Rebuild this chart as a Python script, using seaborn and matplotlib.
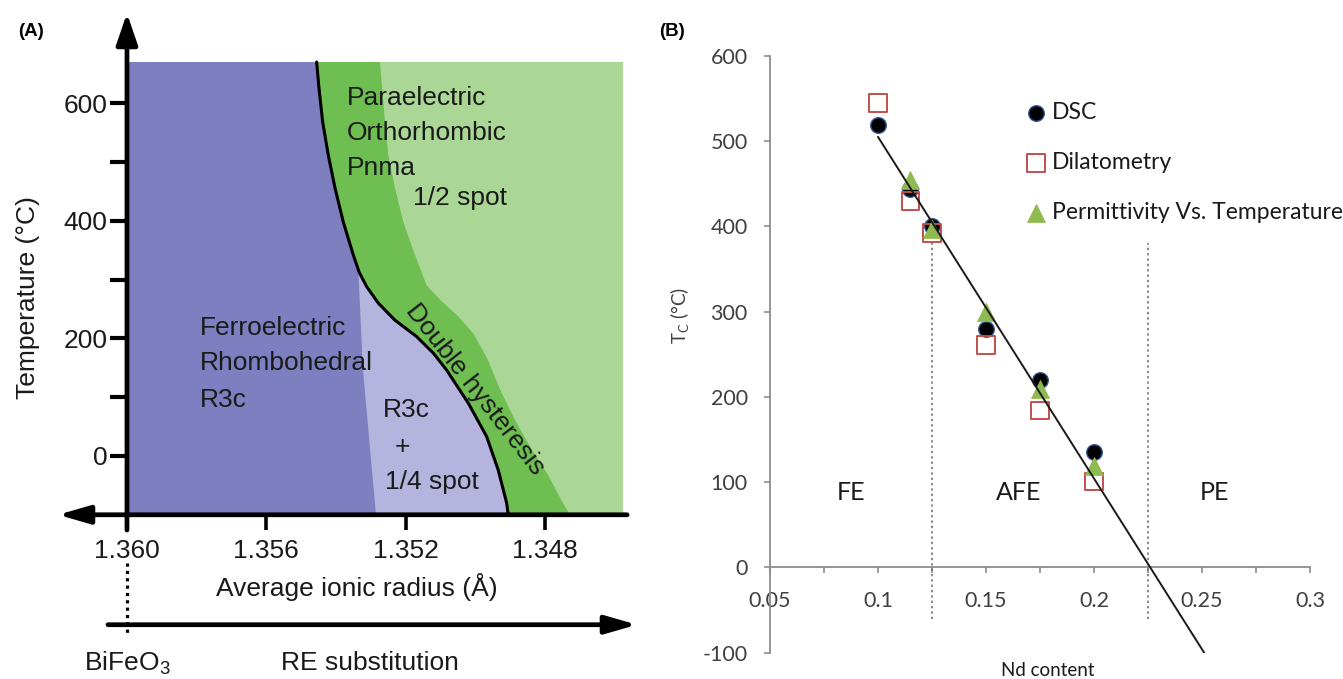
import numpy as np
import pandas as pd
import matplotlib
matplotlib.use("Agg")
import matplotlib.pyplot as plt
import seaborn as sns

# ================= DATA : panel (A) phase diagram =================
radius_ticks = [1.360, 1.356, 1.352, 1.348]
radius_tick_labels = ["1.360", "1.356", "1.352", "1.348"]
temp_major_ticks = [0, 200, 400, 600]
temp_minor_ticks = [100, 300, 500]

# FE / PE phase boundary (black curve): (average ionic radius, temperature)
fe_boundary_radius = [1.354554, 1.354488, 1.354381, 1.354221, 1.354028, 1.353790,
                      1.353503, 1.353330, 1.353118, 1.352785, 1.352306, 1.351683,
                      1.351206, 1.350821, 1.350201, 1.349673, 1.349340, 1.349099,
                      1.349053]
fe_boundary_temp = [670, 626, 568, 512, 456, 398, 342, 312, 288, 260, 231, 203,
                    175, 146, 90, 33, -24, -80, -100]

# outer edge of the "double hysteresis" band
dh_edge_radius = [1.352736, 1.352593, 1.352498, 1.352306, 1.352067, 1.351732,
                  1.351396, 1.351000, 1.350500, 1.350050, 1.349650, 1.349280,
                  1.348861, 1.348372, 1.347913, 1.347483, 1.347281]
dh_edge_temp = [670, 568, 512, 456, 398, 342, 290, 265, 238, 208, 165, 112,
                61, 10, -32, -80, -100]

# left edge of the "R3c + 1/4 spot" region
spot_edge_radius = [1.35336, 1.353224, 1.352851]
spot_edge_temp = [318, 146, -100]

diagram_radius_limits = [1.360, 1.34576]
diagram_temp_limits = [-100, 670]

region_labels = ["Paraelectric", "Orthorhombic", "Pnma", "1/2 spot",
                 "Ferroelectric", "Rhombohedral", "R3c"]
region_label_radius = [1.35368, 1.35368, 1.35368, 1.35179,
                       1.35790, 1.35790, 1.35790]
region_label_temp = [609, 549, 490, 439, 218, 158, 95]

spot_labels = ["R3c", "+", "1/4 spot"]
spot_label_radius = [1.35197, 1.35208, 1.35125]
spot_label_temp = [78, 15, -44]

dh_label = "Double hysteresis"
dh_label_pos = [1.35001, 114]

# axis arrows / substitution arrow (radius, temperature)
yaxis_arrow_temp = [-126, 753]
xaxis_arrow_radius = [1.34564, 1.36198]
subst_arrow_radius = [1.360545, 1.345358]
subst_arrow_temp = -287
bifeo3_dots_temp = [-182, -304]

# ================= DATA : panel (B) =================
nd_dsc = [0.100, 0.115, 0.125, 0.150, 0.175, 0.200]
tc_dsc = [519, 444, 400, 280, 220, 135]
nd_dil = [0.100, 0.115, 0.125, 0.150, 0.175, 0.200]
tc_dil = [545, 430, 392, 261, 184, 101]
nd_perm = [0.115, 0.125, 0.150, 0.175, 0.200]
tc_perm = [455, 397, 300, 209, 119]
trend_nd = [0.100, 0.251]
trend_tc = [505, -100]

nd_major_ticks = [0.05, 0.10, 0.15, 0.20, 0.25, 0.30]
nd_major_labels = ["0.05", "0.1", "0.15", "0.2", "0.25", "0.3"]
nd_minor_ticks = [0.075, 0.125, 0.175, 0.225, 0.275]
tc_ticks = [-100, 0, 100, 200, 300, 400, 500, 600]

phase_bounds = [0.125, 0.225]
phase_line_temp = [-60, 381]
phase_names = ["FE", "AFE", "PE"]
phase_name_nd = [0.0875, 0.1653, 0.2556]
phase_name_tc = [88, 88, 88]

# ================= STYLE =================
sns.set_theme(style="white")
plt.rcParams["font.family"] = ["Liberation Sans", "DejaVu Sans"]
B_FONT = ["Lato", "DejaVu Sans"]

c_fe = "#7d7fc0"
c_spot = "#b4b4de"
c_dh = "#6ebe52"
c_pe = "#aad696"
txt = "#1a1a1a"

W, H = 1343, 679
fig = plt.figure(figsize=(W / 100, H / 100), dpi=100)
fig.patch.set_facecolor("white")


def box(l, t, r, b):
    return [l / W, 1 - b / H, (r - l) / W, (b - t) / H]


# ================= PANEL A =================
axA = fig.add_axes(box(39.9, 9.1, 632.0, 679.0))
axA.set_xlim(1.3625, 1.3455)
axA.set_ylim(-379.3, 760)
axA.patch.set_alpha(0)
for s in axA.spines.values():
    s.set_visible(False)
axA.spines["left"].set_position(("data", 1.360))
axA.spines["bottom"].set_position(("data", -100))

r0, r1 = diagram_radius_limits
t0, t1 = diagram_temp_limits
axA.fill([r0, r0, r1, r1], [t0, t1, t1, t0], color=c_pe, lw=0, zorder=1.0)
axA.fill(fe_boundary_radius + dh_edge_radius[::-1],
         fe_boundary_temp + dh_edge_temp[::-1], color=c_dh, lw=0, zorder=1.1)
axA.fill([r0] + fe_boundary_radius + [r0],
         [t1] + fe_boundary_temp + [t0], color=c_fe, lw=0, zorder=1.2)
below = [(r, t) for r, t in zip(fe_boundary_radius, fe_boundary_temp)
         if t < spot_edge_temp[0]][::-1]
axA.fill(spot_edge_radius + [p[0] for p in below],
         spot_edge_temp + [p[1] for p in below], color=c_spot, lw=0, zorder=1.3)
sns.lineplot(x=fe_boundary_radius, y=fe_boundary_temp, sort=False, estimator=None,
             color="black", lw=2.2, ax=axA, zorder=1.5)

axA.set_yticks(temp_major_ticks)
axA.set_yticklabels([str(v) for v in temp_major_ticks])
axA.set_yticks(temp_minor_ticks, minor=True)
axA.set_xticks(radius_ticks)
axA.set_xticklabels(radius_tick_labels)
axA.tick_params(axis="y", which="both", direction="inout", length=24.5, width=3,
                color="black", pad=2, labelsize=19, labelcolor=txt, left=True, right=False)
axA.tick_params(axis="x", which="major", direction="inout", length=21.6, width=2.6,
                color="black", pad=7, labelsize=19, labelcolor=txt, bottom=True, top=False)
axA.tick_params(axis="x", which="minor", length=0)

arrow_kw = dict(mutation_scale=1, lw=3.4, color="black", shrinkA=0, shrinkB=0)
axA.annotate("", xy=(1.360, yaxis_arrow_temp[1]), xytext=(1.360, yaxis_arrow_temp[0]),
             arrowprops=dict(arrowstyle="-|>,head_length=19,head_width=6.5", **arrow_kw),
             annotation_clip=False, zorder=3)
axA.annotate("", xy=(xaxis_arrow_radius[1], -100), xytext=(xaxis_arrow_radius[0], -100),
             arrowprops=dict(arrowstyle="-|>,head_length=19,head_width=5.5", **arrow_kw),
             annotation_clip=False, zorder=3)
axA.annotate("", xy=(subst_arrow_radius[1], subst_arrow_temp),
             xytext=(subst_arrow_radius[0], subst_arrow_temp),
             arrowprops=dict(arrowstyle="-|>,head_length=19,head_width=5.5", **arrow_kw),
             annotation_clip=False, zorder=3)
axA.plot([1.360, 1.360], bifeo3_dots_temp, ls=(0, (1, 1.3)), lw=2.3, color="black",
         clip_on=False)

for lab, r, t in zip(region_labels, region_label_radius, region_label_temp):
    axA.text(r, t, lab, fontsize=19, color=txt, ha="left", va="center", zorder=4)
for lab, r, t in zip(spot_labels, spot_label_radius, spot_label_temp):
    axA.text(r, t, lab, fontsize=19, color=txt, ha="center", va="center", zorder=4)
axA.text(dh_label_pos[0], dh_label_pos[1], dh_label, fontsize=19, color=txt,
         rotation=-52, rotation_mode="anchor", ha="center", va="center", zorder=4)

axA.text(1.3534, -223, "Average ionic radius (Å)", fontsize=19, color=txt,
         ha="center", va="center")
axA.text(1.360, -352, "BiFeO$_{\\mathregular{3}}$", fontsize=19, color=txt,
         ha="center", va="center")
axA.text(1.35302, -352, "RE substitution", fontsize=19, color=txt,
         ha="center", va="center")
fig.text(28 / W, 1 - 298 / H, "Temperature (°C)", rotation=90, fontsize=19,
         color=txt, ha="center", va="center")
fig.text(31 / W, 1 - 32 / H, "(A)", fontsize=13.5, fontweight="bold", color="black",
         ha="center", va="center")

# ================= PANEL B =================
axB = fig.add_axes(box(770, 55.9, 1310, 652.7))
axB.set_xlim(0.05, 0.3)
axB.set_ylim(-100, 600)
axB.patch.set_alpha(0)

for xb in phase_bounds:
    axB.plot([xb, xb], phase_line_temp, ls=(0, (1.5, 2)), color="#666666", lw=1.1, zorder=1)

sns.scatterplot(x=nd_dsc, y=tc_dsc, ax=axB, marker="o", s=125, color="black",
                edgecolor="#2f5597", linewidth=1.0, label="DSC", zorder=3)
sns.scatterplot(x=nd_dil, y=tc_dil, ax=axB, marker="s", s=160, color="white",
                edgecolor="#c0504d", linewidth=1.4, label="Dilatometry", zorder=4)
axB.collections[-1].set_facecolor("none")
sns.scatterplot(x=nd_perm, y=tc_perm, ax=axB, marker="^", s=170, color="#8fba4f",
                edgecolor="#8fba4f", linewidth=0.5, label="Permittivity Vs. Temperature",
                zorder=5)
sns.lineplot(x=trend_nd, y=trend_tc, color="#1a1a1a", lw=1.4, ax=axB, zorder=6,
             legend=False)

for s in ["top", "right"]:
    axB.spines[s].set_visible(False)
axB.spines["bottom"].set_position(("data", 0))
for s in ["left", "bottom"]:
    axB.spines[s].set_color("#8c8c8c")
    axB.spines[s].set_linewidth(1.3)

axB.set_xticks(nd_major_ticks)
axB.set_xticklabels(nd_major_labels, fontfamily=B_FONT)
axB.set_xticks(nd_minor_ticks, minor=True)
axB.set_yticks(tc_ticks)
axB.set_yticklabels([str(v) for v in tc_ticks], fontfamily=B_FONT)
axB.tick_params(axis="both", which="both", direction="out", length=4, width=1.2,
                color="#8c8c8c", labelcolor="#404040", labelsize=15.5)
axB.tick_params(axis="x", which="both", pad=13, bottom=True, top=False)
axB.tick_params(axis="y", pad=12, left=True, right=False)

for name, xn, yn in zip(phase_names, phase_name_nd, phase_name_tc):
    axB.text(xn, yn, name, fontsize=18, color="#1a1a1a", ha="center", va="center",
             fontfamily=B_FONT)

leg = axB.legend(loc="upper left", bbox_to_anchor=(0.4759, 0.922), frameon=False,
                 borderaxespad=0, borderpad=0, labelspacing=1.25, handlelength=0.8,
                 handletextpad=0.3, prop={"family": B_FONT, "size": 16.5})
for t in leg.get_texts():
    t.set_color("#1a1a1a")

fig.text(1048 / W, 1 - 670 / H, "Nd content", fontsize=13.5, color="#1a1a1a",
         ha="center", va="center", fontfamily=B_FONT)
fig.text(680 / W, 1 - 316 / H, "T$_{\\mathregular{C}}$ (°C)", rotation=90, fontsize=13.5,
         color="#404040", ha="center", va="center", fontfamily=B_FONT)
fig.text(672 / W, 1 - 32 / H, "(B)", fontsize=13.5, fontweight="bold", color="black",
         ha="center", va="center")

fig.savefig("out.png", dpi=100, facecolor="white")
